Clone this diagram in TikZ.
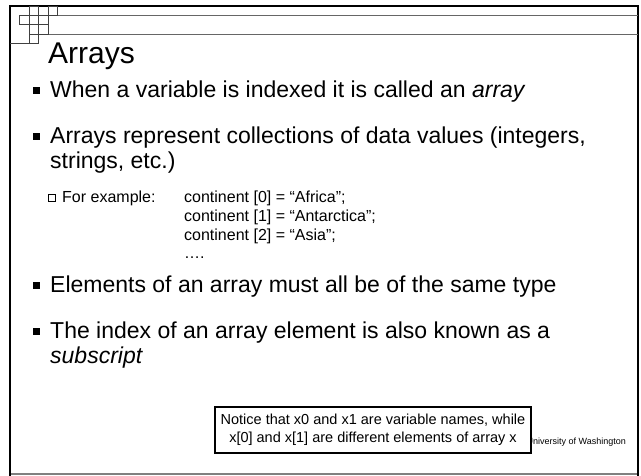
\documentclass[tikz,border=0pt]{standalone}
\usepackage{fontspec}
\setmainfont{Liberation Sans}
\usetikzlibrary{positioning}

\begin{document}
\begin{tikzpicture}[
			x=1pt, y=-1pt,
			title/.style = {anchor=base west, inner sep=0pt, font=\fontsize{30}{36}\selectfont},
			item/.style = {anchor=base west, inner sep=0pt, font=\fontsize{23}{27}\selectfont},
			sub/.style = {anchor=base west, inner sep=0pt, font=\fontsize{16}{20}\selectfont},
			dot/.style = {fill=black, minimum size=7pt, inner sep=0pt},
			box/.style = {draw, minimum size=7pt, inner sep=0pt, line width=.5pt},
			grid/.style = {draw=black!75, line width=.8pt}
		]
		\useasboundingbox (0,0) rectangle (641,476);
		% Frame.
		\draw[gray, line width=1.2pt] (10,474) -- (638,474);
		\draw[line width=2.6pt] (10,476) -- (10,6) -- (638,6) -- (638,476);
		\draw[grid, black!60] (19,15) -- (638,15);
		\draw[grid, black!60] (29,34) -- (638,34);
		% Corner squares.
		\draw[grid] (19,15) rectangle (29,24);
		\draw[grid] (29,6) rectangle (38,15);
		\draw[grid] (48,6) rectangle (57,15);
		\draw[grid] (29,15) rectangle (48,34);
		\draw[grid] (38,15) -- (38,43);
		\draw[grid] (29,24) -- (48,24);
		\draw[grid] (10,43) -- (38,43) -- (38,34);
		\draw[grid] (29,34) -- (29,43);
		% Title.
		\node[title] (head) at (48,64) {Arrays};
		% Bullets.
		\node[item] (t1) at (50,98) {When a variable is indexed it is called an \textit{array}};
		\node[item] (t2) at (50,144) {Arrays represent collections of data values (integers,};
		\node[item] (t3) at (50,169) {strings, etc.)};
		\node[item] (t4) at (50,293) {Elements of an array must all be of the same type};
		\node[item] (t5) at (50,339) {The index of an array element is also known as a};
		\node[item] (t6) at (50,363) {\textit{subscript}};
		\foreach \t in {t1,t2,t4,t5}
			\node[dot] at ([xshift=-14pt, yshift=7.5pt]\t.base west) {};
		% Example.
		\node[sub] (ex) at (62,203) {For example:};
		\node[box] at ([xshift=-10pt, yshift=5.5pt]ex.base west) {};
		\node[sub] (c0) at (184,203) {continent [0] = “Africa”;};
		\node[sub] (c1) at (184,222) {continent [1] = “Antarctica”;};
		\node[sub] (c2) at (184,241) {continent [2] = “Asia”;};
		\node[sub] (c3) at (184,259) {….};
		% Footer.
		\node[anchor=base east, inner sep=0pt, font=\fontsize{9}{11}\selectfont] (uw) at (626,444) {University of Washington};
		\node[draw, line width=1.8pt, fill=white, align=center, inner xsep=6pt, inner ysep=7pt,
			font=\fontsize{14.5}{18.5}\selectfont] (note) at (373,430)
			{Notice that x0 and x1 are variable names, while\\x[0] and x[1] are different elements of array x};
	\end{tikzpicture}
\end{document}
